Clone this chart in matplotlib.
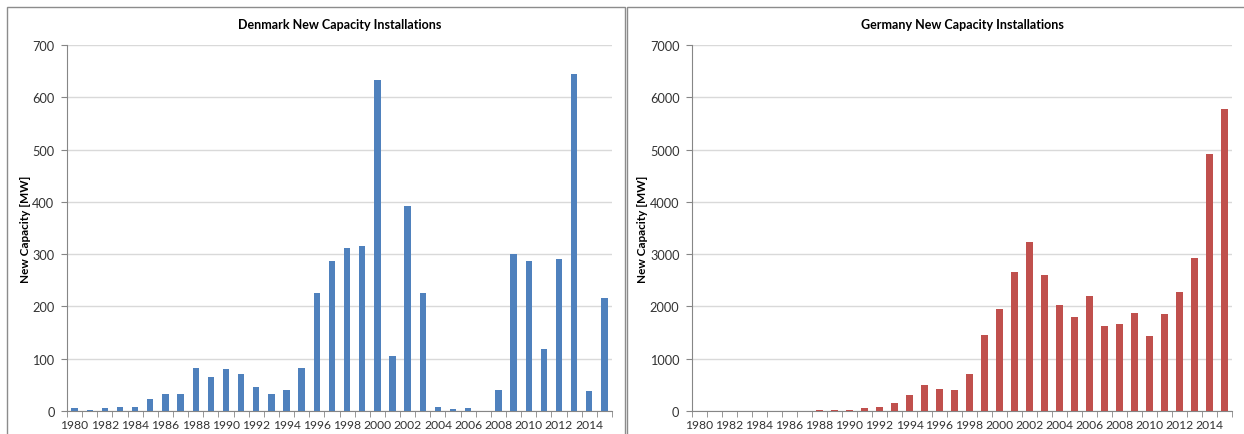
import numpy as np
import matplotlib
matplotlib.use("Agg")
import matplotlib.pyplot as plt
from matplotlib.patches import Rectangle

plt.rcParams['font.family'] = ['Lato', 'DejaVu Sans']

# --- Datos ---
anios = list(range(1980, 2016))
dinamarca = [5, 2, 5, 8, 7, 22, 32, 33, 82, 65, 81, 70, 45, 33, 41, 83,
             225, 287, 312, 315, 633, 105, 393, 225, 8, 4, 5, 0, 40, 300,
             287, 118, 290, 645, 38, 217]
alemania = [0, 0, 0, 0, 0, 0, 0, 5, 10, 10, 15, 50, 70, 150, 300, 490,
            430, 400, 710, 1460, 1950, 2660, 3240, 2600, 2020, 1800, 2200,
            1630, 1660, 1880, 1440, 1850, 2270, 2920, 4920, 5780]
titulos = ['Denmark New Capacity Installations', 'Germany New Capacity Installations']
ylabel = 'New Capacity [MW]'

W, H = 1244, 435
fig = plt.figure(figsize=(W / 100, H / 100), dpi=100)

# marcos de cada panel (estilo Excel)
for x0, x1 in [(7, 625), (627, 1250)]:
    fig.add_artist(Rectangle((x0 / W, 0 - 0.01), (x1 - x0) / W, (H - 8) / H + 0.01,
                             transform=fig.transFigure, fill=False,
                             edgecolor='#8c8c8c', linewidth=1.0))


def panel(rect, valores, color, ymax, paso, titulo):
    ax = fig.add_axes(rect)
    x = np.arange(len(anios))
    ax.bar(x, valores, width=0.42, color=color, zorder=3)
    ax.set_xlim(-0.5, len(anios) - 0.5)
    ax.set_ylim(0, ymax)
    ax.set_yticks(np.arange(0, ymax + 1, paso))
    ax.yaxis.grid(True, color='#d9d9d9', linewidth=1.0, zorder=0)
    ax.set_xticks(x[::2])
    ax.set_xticklabels([str(a) for a in anios[::2]], fontsize=8.7, color='#333333')
    ax.set_xticks(np.arange(-0.5, len(anios), 1), minor=True)
    ax.tick_params(axis='x', which='major', length=0, pad=6)
    ax.tick_params(axis='x', which='minor', length=4, color='#868686', direction='out')
    ax.tick_params(axis='y', length=4, color='#868686', labelsize=9.2,
                   labelcolor='#333333', pad=5)
    for s in ['top', 'right']:
        ax.spines[s].set_visible(False)
    for s in ['left', 'bottom']:
        ax.spines[s].set_color('#868686')
    ax.set_ylabel(ylabel, fontsize=8.5, fontweight='bold', labelpad=1)
    ax.set_title(titulo, fontsize=9, fontweight='bold', pad=12)
    return ax


panel([67 / W, 23 / H, 545 / W, 366 / H], dinamarca, '#4f81bd', 700, 100, titulos[0])
panel([692 / W, 23 / H, 540 / W, 366 / H], alemania, '#c0504d', 7000, 1000, titulos[1])

fig.savefig('out.png', dpi=100)
